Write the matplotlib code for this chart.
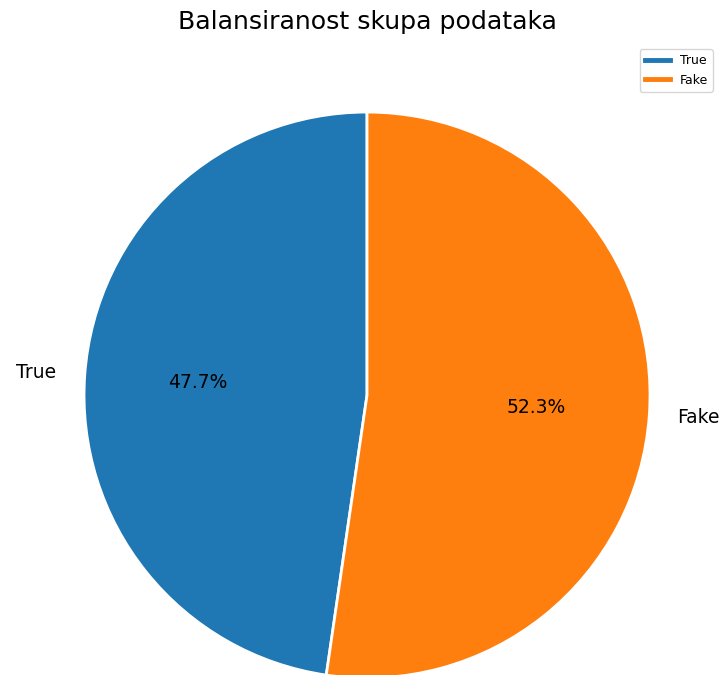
import matplotlib.pyplot as plt
from matplotlib.lines import Line2D

labels = ["True", "Fake"]
counts = [47.7, 52.3]
colors = ["#1f77b4", "#ff7f0e"]

fig = plt.figure(figsize=(7.25, 6.75), dpi=100)
ax = fig.add_axes([0.1159, -0.0045, 0.7807, 0.8385])

ax.pie(
    counts,
    labels=labels,
    colors=colors,
    autopct="%1.1f%%",
    startangle=90,
    wedgeprops=dict(edgecolor="white", linewidth=2),
    textprops=dict(fontsize=13.5),
)
ax.set_xlim(-1, 1)
ax.set_ylim(-1, 1)
ax.set_aspect("equal")

fig.text(367.5 / 725, 1 - 22 / 675, "Balansiranost skupa podataka",
         fontsize=18.2, ha="center", va="center")

handles = [Line2D([0], [0], color=c, lw=3.5) for c in colors]
fig.legend(handles, labels, loc="upper right", fontsize=9,
           bbox_to_anchor=(719 / 725, 1 - 43 / 675), handlelength=2.0)

fig.savefig("out.png", dpi=100)
